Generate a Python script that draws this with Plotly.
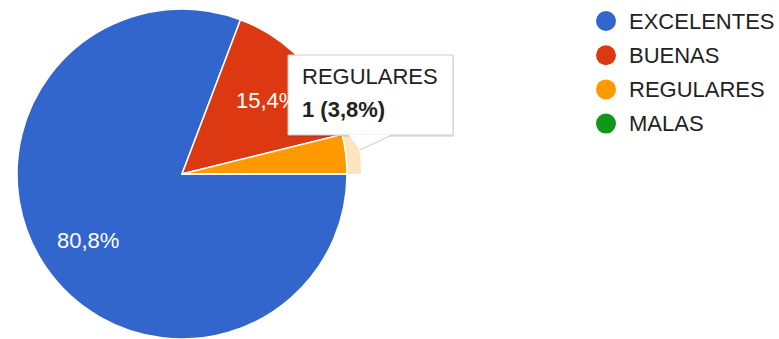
import math
import plotly.graph_objects as go

# Survey answers and their counts
categories = ["EXCELENTES", "BUENAS", "REGULARES", "MALAS"]
counts = [21, 4, 1, 0]
colors = ["#3366cc", "#dc3912", "#ff9900", "#109618"]
highlighted = 2  # slice shown with its hover tooltip

W, H = 779, 339
CX, CY, R = 182, 174, 165          # pie centre and radius in pixels
START = 90                         # first slice starts at 3 o'clock, clockwise
FONT = "Arial, Liberation Sans, sans-serif"

total = sum(counts)
shares = [c / total for c in counts]


def fmt_pct(v):
    return f"{v * 100:.1f}%".replace(".", ",")


def slice_angles(i):
    """Compass angles (deg, clockwise from north) bounding slice i."""
    before = sum(counts[:i])
    return (START + 360 * before / total,
            START + 360 * (before + counts[i]) / total)


def polar(r, a):
    return CX + r * math.sin(math.radians(a)), CY - r * math.cos(math.radians(a))


fig = go.Figure()

# hidden pixel-space axes used for overlays (legend, hover ring)
fig.update_xaxes(range=[0, W], visible=False, fixedrange=True)
fig.update_yaxes(range=[H, 0], visible=False, fixedrange=True)

# hover ring around the highlighted slice, following the pie's angles
a0, a1 = slice_angles(highlighted)
n = 40
arc = [a0 + (a1 - a0) * k / n for k in range(n + 1)]
ring = [polar(R + 14, a) for a in arc] + [polar(R, a) for a in reversed(arc)]
fig.add_trace(go.Scatter(
    x=[p[0] for p in ring], y=[p[1] for p in ring], mode="lines", fill="toself",
    fillcolor="rgba(255,153,0,0.26)", line=dict(width=0),
    hoverinfo="skip", showlegend=False,
))

fig.add_trace(go.Pie(
    labels=categories,
    values=counts,
    sort=False,
    direction="clockwise",
    rotation=START,
    marker=dict(colors=colors, line=dict(color="white", width=1.5)),
    textinfo="none",
    hoverinfo="skip",
    showlegend=False,
    domain=dict(x=[(CX - R) / W, (CX + R) / W],
                y=[(H - CY - R) / H, (H - CY + R) / H]),
))

annotations = []

# percentage labels inside the slices (thin slices stay unlabelled)
for i, s in enumerate(shares):
    if s < 0.05:
        continue
    b0, b1 = slice_angles(i)
    lx, ly = polar(0.69 * R, (b0 + b1) / 2)
    annotations.append(dict(
        x=lx, y=ly, xref="x", yref="y", text=fmt_pct(s), showarrow=False,
        xanchor="center", yanchor="middle", yshift=-2,
        font=dict(family=FONT, size=22, color="white"),
    ))

# legend: round swatches plus labels
leg_x, leg_y0, leg_dy = 606, 21, 34.2
leg_y = [leg_y0 + i * leg_dy for i in range(len(categories))]
fig.add_trace(go.Scatter(
    x=[leg_x] * len(categories), y=leg_y, mode="markers",
    marker=dict(size=20, color=colors, line=dict(width=0)),
    hoverinfo="skip", showlegend=False,
))
for cat, y in zip(categories, leg_y):
    annotations.append(dict(
        x=leg_x + 21, y=y, xref="x", yref="y", text=cat, showarrow=False,
        xanchor="left", yanchor="middle",
        font=dict(family=FONT, size=22, color="#222222"),
    ))

# tooltip for the highlighted slice
bx0, by0, bx1, by1 = 288, 55, 453, 135
tip = (360, 150)
base_l, base_r = 348, 392
shapes = [
    dict(type="rect", xref="x", yref="y", x0=bx0 + 1, y0=by0 + 2,
         x1=bx1 + 1, y1=by1 + 2, fillcolor="rgba(0,0,0,0.10)",
         line=dict(width=0), layer="above"),
    dict(type="rect", xref="x", yref="y", x0=bx0, y0=by0, x1=bx1, y1=by1,
         fillcolor="white", line=dict(color="#cccccc", width=1), layer="above"),
    dict(type="path", xref="x", yref="y",
         path=f"M{base_l},{by1 - 0.5} L{tip[0]},{tip[1]} L{base_r},{by1 - 0.5} Z",
         fillcolor="white", line=dict(width=0), layer="above"),
    dict(type="line", xref="x", yref="y", x0=tip[0], y0=tip[1],
         x1=base_r, y1=by1, line=dict(color="#cccccc", width=1), layer="above"),
]
annotations.append(dict(
    x=bx0 + 12, y=76, xref="x", yref="y", text=categories[highlighted],
    showarrow=False, xanchor="left", yanchor="middle",
    font=dict(family=FONT, size=22, color="#222222"),
))
annotations.append(dict(
    x=bx0 + 12, y=109, xref="x", yref="y",
    text=f"<b>{counts[highlighted]} ({fmt_pct(shares[highlighted])})</b>",
    showarrow=False, xanchor="left", yanchor="middle",
    font=dict(family=FONT, size=22, color="#222222"),
))

fig.update_layout(
    width=W, height=H,
    margin=dict(l=0, r=0, t=0, b=0),
    paper_bgcolor="white", plot_bgcolor="white",
    shapes=shapes,
    annotations=annotations,
    showlegend=False,
)

fig.write_html("out.html", config={"displayModeBar": False})
